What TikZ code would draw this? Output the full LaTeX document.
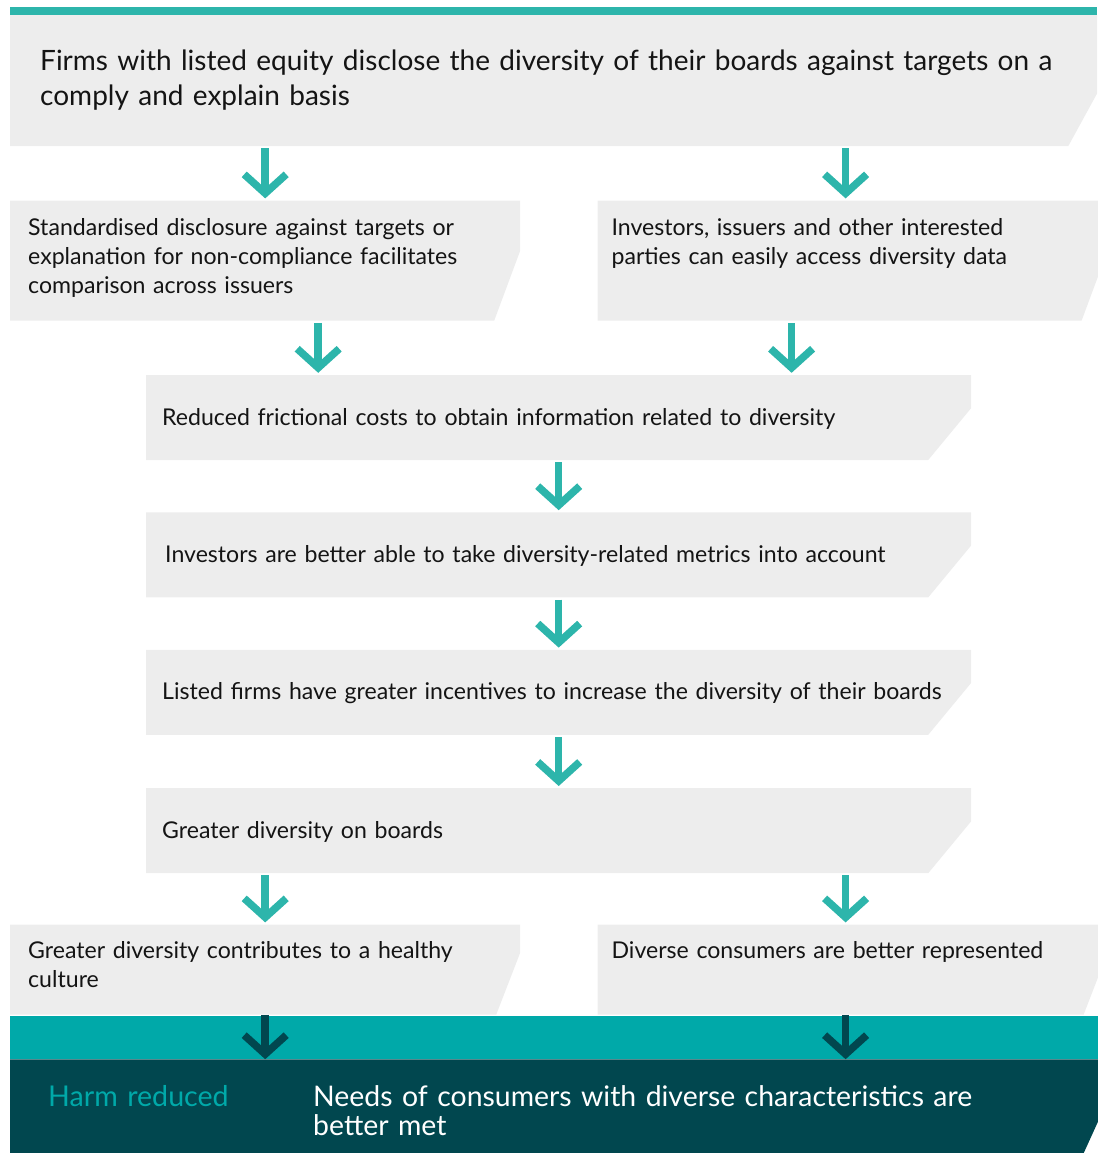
\documentclass[tikz,border=0pt]{standalone}
\usepackage{fontspec}
\setmainfont{Lato}[WordSpace=0.8]
\usetikzlibrary{arrows.meta, positioning}
\definecolor{boxgrey}{HTML}{EDEDED}
\definecolor{inkblack}{HTML}{141414}
\definecolor{flowteal}{HTML}{2DB5AB}
\definecolor{bandteal}{HTML}{00A9A9}
\definecolor{deepteal}{HTML}{01474F}
\tikzset{
  box/.style={fill=white, inner ysep=0pt, align=left, text=inkblack, font=\fontsize{23.1}{29}\selectfont},
  cut/.style n args={3}{path picture={\fill[#3] (path picture bounding box.south west)
      -- (path picture bounding box.north west) -- (path picture bounding box.north east)
      -- ([yshift=#2pt]path picture bounding box.south east)
      -- ([xshift=-#1pt]path picture bounding box.south east) -- cycle;}},
  half/.style={box, text width=474pt, inner xsep=18pt, text height=35pt, text depth=85pt, cut={26}{70}{boxgrey}},
  wide/.style={box, text width=793pt, inner xsep=16pt, text height=50pt, text depth=35pt, cut={43}{52}{boxgrey}},
  flow/.style={draw=flowteal, line width=7.5pt, ->, shorten <=2pt, shorten >=2pt},
  sink/.style={draw=deepteal, line width=7.5pt, ->},
}

\begin{document}
\begin{tikzpicture}[x=1pt, y=-1pt, >={Straight Barb[length=19pt, width=42pt, line width=7.5pt]}]
    \useasboundingbox (0,0) rectangle (1097,1153);

    % boxes
    \node[box, font=\fontsize{28}{35}\selectfont, text width=1027pt, inner xsep=30pt, text height=55pt, text depth=76pt, cut={29}{53}{boxgrey}, anchor=north west] (firms) at (10,15)
        {Firms with listed equity disclose the diversity of their boards against targets on a\\comply and explain basis};
    \node[half, below=54pt of firms.south west, anchor=north west] (standard)
        {Standardised disclosure against targets or\\explanation for non-compliance facilitates\\comparison across issuers};
    \node[half, inner xsep=14pt, text width=482pt, right=77pt of standard.north east, anchor=north west] (access)
        {Investors, issuers and other interested\\parties can easily access diversity data};
    \node[wide, below=54pt of standard.south west, xshift=136pt, anchor=north west] (costs)
        {Reduced frictional costs to obtain information related to diversity};
    \node[wide, inner xsep=19pt, text width=787pt, below=52pt of costs.south west, anchor=north west] (metrics)
        {Investors are better able to take diversity-related metrics into account};
    \node[wide, below=52pt of metrics.south west, anchor=north west] (incentives)
        {Listed firms have greater incentives to increase the diversity of their boards};
    \node[wide, below=53pt of incentives.south west, anchor=north west] (greater)
        {Greater diversity on boards};
    \node[half, text height=34pt, text depth=56pt, cut={24}{62}{boxgrey}, below=51pt of greater.south west, xshift=-136pt, anchor=north west] (culture)
        {Greater diversity contributes to a healthy\\culture};
    \node[half, inner xsep=14pt, text width=482pt, text height=34pt, text depth=56pt, cut={24}{62}{boxgrey}, right=77pt of culture.north east, anchor=north west] (represented)
        {Diverse consumers are better represented};

    % outcome
    \node[fill=bandteal, inner sep=0pt, minimum width=1097pt, minimum height=43pt, below=1pt of culture.south west, anchor=north west] (band) {};
    \node[box, text=bandteal, font=\fontsize{28.6}{30}\selectfont, text width=1021pt, inner xsep=38pt, text height=47pt, text depth=50pt, cut={25}{55}{deepteal}, below=0pt of band.south west, anchor=north west] (harm)
        {Harm reduced};
    \node[anchor=base west, text=white, font=\fontsize{28.4}{29}\selectfont, text width=740pt, align=left, inner sep=0pt] (needs) at ([xshift=303pt]harm.base west)
        {Needs of consumers with diverse characteristics are\\better met};

    \draw[line width=8pt, draw=flowteal] ([yshift=4pt]firms.north west) -- ([yshift=4pt]firms.north east);

    % arrows
    \draw[flow] (firms.south -| standard.north) -- (standard.north);
    \draw[flow] ([xshift=-7pt]access.north |- firms.south) -- ([xshift=-7pt]access.north);
    \draw[flow] ([xshift=53pt]standard.south) -- ([xshift=53pt]standard.south |- costs.north);
    \draw[flow] ([xshift=-61pt]access.south) -- ([xshift=-61pt]access.south |- costs.north);
    \draw[flow] (costs.south) -- (metrics.north);
    \draw[flow] (metrics.south) -- (incentives.north);
    \draw[flow] (incentives.south) -- (greater.north);
    \draw[flow] (greater.south -| culture.north) -- (culture.north);
    \draw[flow] ([xshift=-7pt]represented.north |- greater.south) -- ([xshift=-7pt]represented.north);
    \draw[sink] (culture.south) -- (culture.south |- harm.north);
    \draw[sink] ([xshift=-7pt]represented.south) -- ([xshift=-7pt]represented.south |- harm.north);
\end{tikzpicture}
\end{document}
